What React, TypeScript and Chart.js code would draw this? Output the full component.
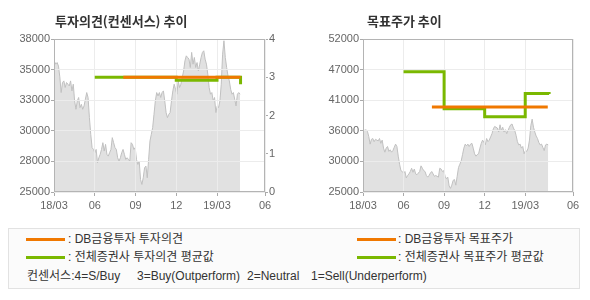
import React, { useEffect, useRef } from "react";
import { Chart, registerables } from "chart.js";
Chart.register(...registerables);

// ---- axis data ----
const xAxisStart = "2018-03-01";
const xAxisEnd = "2019-06-17";
const xTickDates = ["2018-03-01", "2018-06-01", "2018-09-01", "2018-12-01", "2019-03-01", "2019-06-17"];
const xTickLabels = ["18/03", "06", "09", "12", "19/03", "06"];

const leftPriceMin = 25000;
const leftPriceMax = 38000;
const leftPriceTickLabels = ["25000", "28000", "30000", "33000", "35000", "38000"];
const opinionMin = 0;
const opinionMax = 4;
const opinionTickLabels = ["0", "1", "2", "3", "4"];
const rightPriceMin = 25000;
const rightPriceMax = 52000;
const rightPriceTickLabels = ["25000", "30000", "36000", "41000", "47000", "52000"];

// ---- stock price (evenly spaced trading samples) ----
const priceStartDate = "2018-03-02";
const priceEndDate = "2019-04-22";
const priceValues = [
  36090, 35860, 36000, 35700, 34780, 33450, 34300, 34440, 33880, 34300,
  34160, 34010, 34440, 33590, 34160, 32740, 32030, 32740, 33030, 32170,
  32450, 32030, 32310, 32880, 33450, 33030, 31320, 29900, 28770, 28620,
  28340, 28620, 27490, 27910, 28200, 28620, 29190, 28480, 29050, 28200,
  28050, 28340, 28620, 29620, 29190, 28770, 28620, 27910, 27620, 27910,
  28340, 28620, 28200, 27770, 27910, 27770, 27620, 29190, 29050, 28620,
  28770, 27770, 27340, 27620, 26070, 25640, 26210, 27060, 27200, 26210,
  27770,
  29330, 29900, 30470, 31600, 32740, 33450, 33160, 33450, 33030, 33450,
  33590, 32740, 31750, 31320, 31600, 31750, 32740, 33590, 34160, 33730,
  33310, 34440, 33880, 34160, 34730, 35290, 36140, 36570, 36430, 36290,
  35580, 36860, 35860, 36430, 35580, 36000, 35290, 35860, 36430, 36860,
  37000, 36290, 35860, 35010, 33880, 33310, 33450, 32740, 33030, 31750,
  32310, 32170, 32740, 34160, 36710, 37850, 36430, 35580, 34870, 34440,
  33730, 33310, 33450, 32880, 32310, 33310, 33450, 33310,
];

// ---- opinions ----
const dbOpinionDates = ["2018-08-04", "2019-04-23"];
const dbOpinionValues = [3, 3];
const avgOpinionDates = ["2018-06-01", "2018-12-01", "2019-03-01", "2019-04-23"];
const avgOpinionValues = [3, 2.92, 3, 2.82];

// ---- target prices ----
const dbTargetDates = ["2018-08-04", "2019-04-21"];
const dbTargetValues = [40000, 40000];
const avgTargetDates = ["2018-06-01", "2018-09-01", "2018-12-01", "2019-03-01", "2019-04-24"];
const avgTargetValues = [46200, 39700, 38300, 42400, 42300];

const ORANGE = "#f07800";
const GREEN = "#7ab800";
const TICK_FONT = { family: "'Liberation Sans', Arial, sans-serif", size: 11 };
const TICK_COLOR = "#666666";
const GRID_COLOR = "#ececec";
const TICKMARK_COLOR = "#aaaaaa";

function toMonth(s: string): number {
  const [y, m, d] = s.split("-").map(Number);
  const dim = new Date(y, m, 0).getDate();
  return (y - 2018) * 12 + (m - 3) + (d - 1) / dim;
}

function pts(dates: string[], values: number[]) {
  return dates.map((d, i) => ({ x: toMonth(d), y: values[i] }));
}

function pricePoints() {
  const s = toMonth(priceStartDate);
  const e = toMonth(priceEndDate);
  const n = priceValues.length;
  return priceValues.map((v, i) => ({ x: s + ((e - s) * i) / (n - 1), y: v }));
}

function evenTicks(min: number, max: number, count: number) {
  const out: { value: number }[] = [];
  for (let i = 0; i < count; i++) out.push({ value: min + ((max - min) * i) / (count - 1) });
  return out;
}

const gridOverPlugin = {
  id: "gridOver",
  afterDatasetDraw(chart: any, args: any) {
    if (args.index === 2) {
      chart.scales.x.drawGrid(chart.chartArea);
      chart.scales.y.drawGrid(chart.chartArea);
    }
  },
};

const framePlugin = {
  id: "frame",
  afterDraw(chart: any) {
    const { ctx, chartArea } = chart;
    ctx.save();
    ctx.strokeStyle = "#b4b4b4";
    ctx.lineWidth = 1;
    const l = Math.round(chartArea.left) + 0.5;
    const t = Math.round(chartArea.top) + 0.5;
    const r = Math.round(chartArea.right) - 0.5;
    const b = Math.round(chartArea.bottom) - 0.5;
    ctx.strokeRect(l, t, r - l, b - t);
    ctx.restore();
  },
};

function xScale() {
  return {
    type: "linear",
    min: toMonth(xAxisStart),
    max: toMonth(xAxisEnd),
    afterBuildTicks: (s: any) => {
      s.ticks = xTickDates.map((d) => ({ value: toMonth(d) }));
    },
    afterFit: (s: any) => {
      s.height = 28;
    },
    ticks: {
      callback: (_v: any, i: number) => xTickLabels[i],
      autoSkip: false,
      maxRotation: 0,
      padding: 3,
      color: TICK_COLOR,
      font: TICK_FONT,
    },
    grid: { color: GRID_COLOR, tickColor: TICKMARK_COLOR, tickLength: 4, lineWidth: 1 },
    border: { display: false },
  };
}

function yScale(min: number, max: number, labels: string[], width: number, position: string, onArea: boolean) {
  return {
    type: "linear",
    position,
    min,
    max,
    afterBuildTicks: (s: any) => {
      s.ticks = evenTicks(min, max, labels.length);
    },
    afterFit: (s: any) => {
      s.width = width;
    },
    ticks: {
      callback: (_v: any, i: number) => labels[i],
      autoSkip: false,
      padding: 1,
      color: TICK_COLOR,
      font: TICK_FONT,
    },
    grid: {
      color: GRID_COLOR,
      tickColor: TICKMARK_COLOR,
      tickLength: 3,
      lineWidth: 1,
      drawOnChartArea: onArea,
    },
    border: { display: false },
  };
}

function stepDataset(label: string, data: any[], color: string, order: number, axis: string) {
  return {
    label,
    data,
    yAxisID: axis,
    borderColor: color,
    backgroundColor: color,
    borderWidth: 3,
    stepped: true,
    pointRadius: 0,
    fill: false,
    order,
    borderCapStyle: "butt",
    borderJoinStyle: "miter",
  };
}

function priceDataset() {
  return {
    label: "price",
    data: pricePoints(),
    yAxisID: "y",
    borderColor: "#c0c0c0",
    backgroundColor: "#e1e1e1",
    borderWidth: 1,
    pointRadius: 0,
    fill: "start",
    tension: 0,
    order: 2,
  };
}

const baseOptions = {
  responsive: false,
  animation: false,
  plugins: { legend: { display: false }, tooltip: { enabled: false }, title: { display: false } },
  events: [],
};

export default function App() {
  const leftRef = useRef<HTMLCanvasElement | null>(null);
  const rightRef = useRef<HTMLCanvasElement | null>(null);

  useEffect(() => {
    const left = new Chart(leftRef.current as HTMLCanvasElement, {
      type: "line",
      data: {
        datasets: [
          stepDataset("db", pts(dbOpinionDates, dbOpinionValues), ORANGE, 0, "y1"),
          stepDataset("avg", pts(avgOpinionDates, avgOpinionValues), GREEN, 1, "y1"),
          priceDataset(),
        ],
      },
      options: {
        ...baseOptions,
        layout: { padding: { top: 39, left: 0, right: 0, bottom: 0 } },
        scales: {
          x: xScale(),
          y: yScale(leftPriceMin, leftPriceMax, leftPriceTickLabels, 54, "left", true),
          y1: yScale(opinionMin, opinionMax, opinionTickLabels, 30, "right", false),
        },
      } as any,
      plugins: [gridOverPlugin, framePlugin],
    } as any);

    const right = new Chart(rightRef.current as HTMLCanvasElement, {
      type: "line",
      data: {
        datasets: [
          stepDataset("db", pts(dbTargetDates, dbTargetValues), ORANGE, 0, "y"),
          stepDataset("avg", pts(avgTargetDates, avgTargetValues), GREEN, 1, "y"),
          priceDataset(),
        ],
      },
      options: {
        ...baseOptions,
        layout: { padding: { top: 39, left: 0, right: 17, bottom: 0 } },
        scales: {
          x: xScale(),
          y: yScale(rightPriceMin, rightPriceMax, rightPriceTickLabels, 68, "left", true),
        },
      } as any,
      plugins: [gridOverPlugin, framePlugin],
    } as any);

    return () => {
      left.destroy();
      right.destroy();
    };
  }, []);

  const kr = "'Noto Sans CJK KR', 'Noto Sans', sans-serif";
  const legFont = "'Liberation Sans', 'Noto Sans CJK KR', sans-serif";
  const titleStyle: React.CSSProperties = {
    position: "absolute",
    top: 12,
    fontFamily: kr,
    fontWeight: 700,
    fontSize: 13,
    lineHeight: "18px",
    color: "#333",
    whiteSpace: "nowrap",
  };
  const legText = (left: number, cy: number, text: string): React.ReactElement => (
    <div
      style={{
        position: "absolute",
        left,
        top: cy - 8,
        lineHeight: "16px",
        fontFamily: legFont,
        fontSize: 12,
        color: "#333",
        whiteSpace: "pre",
      }}
    >
      {text}
    </div>
  );
  const legLine = (left: number, cy: number, color: string): React.ReactElement => (
    <div style={{ position: "absolute", left, top: cy - 1.5, width: 39, height: 3, background: color }} />
  );

  return (
    <div style={{ position: "fixed", left: 0, top: 0, width: 590, height: 300, background: "#fff", overflow: "hidden" }}>
      <canvas ref={leftRef} width={295} height={220} style={{ position: "absolute", left: 0, top: 0 }} />
      <canvas ref={rightRef} width={295} height={220} style={{ position: "absolute", left: 295, top: 0 }} />
      <div style={{ ...titleStyle, left: 55 }}>투자의견(컨센서스) 추이</div>
      <div style={{ ...titleStyle, left: 367 }}>목표주가 추이</div>

      <div
        style={{
          position: "absolute",
          left: 8,
          top: 228,
          width: 570,
          height: 59,
          border: "1px solid #e2e2e2",
          background: "#fbfbfb",
        }}
      />
      {legLine(26, 239, ORANGE)}
      {legText(68, 239, ": DB금융투자 투자의견")}
      {legLine(26, 257, GREEN)}
      {legText(68, 257, ": 전체증권사 투자의견 평균값")}
      {legLine(357, 239, ORANGE)}
      {legText(398, 239, ": DB금융투자 목표주가")}
      {legLine(357, 257, GREEN)}
      {legText(398, 257, ": 전체증권사 목표주가 평균값")}
      {legText(27, 276, "컨센서스:4=S/Buy")}
      {legText(137, 276, "3=Buy(Outperform)")}
      {legText(247, 276, "2=Neutral")}
      {legText(311, 276, "1=Sell(Underperform)")}
    </div>
  );
}
